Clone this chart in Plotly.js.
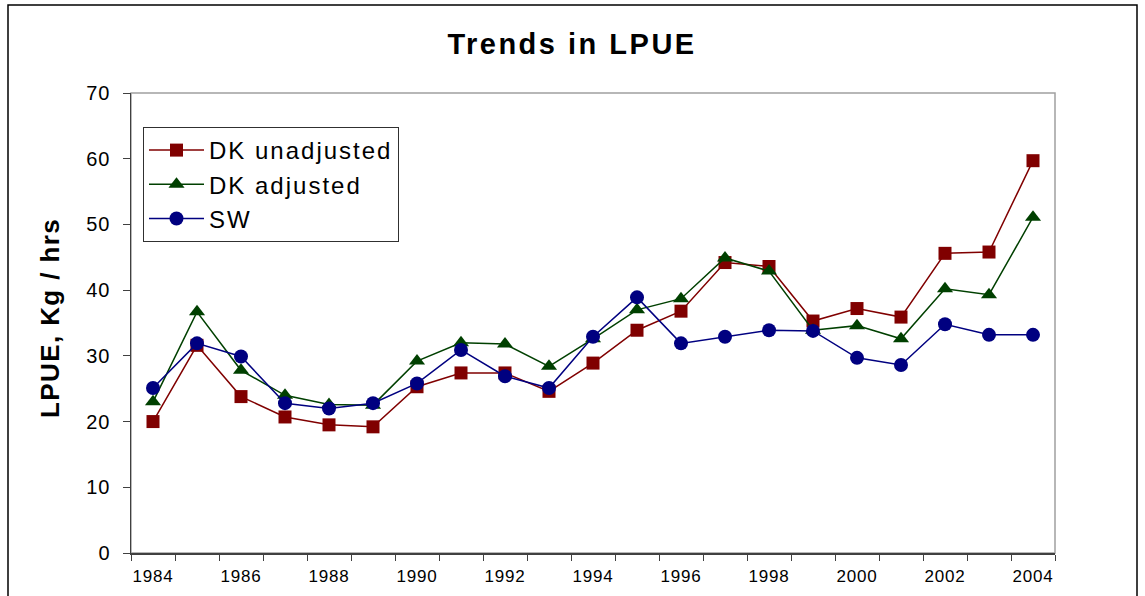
<!DOCTYPE html>
<html>
<head>
<meta charset="utf-8">
<script src="https://cdn.plot.ly/plotly-3.0.1.min.js"></script>
<style>
html,body{margin:0;padding:0;background:#fff;}
#chart{width:1145px;height:596px;}
.gtitle{letter-spacing:2.5px;}
.legendtext{letter-spacing:2px;}
.xtick text{letter-spacing:0.8px;}
.ytick text{letter-spacing:1px;}
.annotation-text{letter-spacing:1.4px;}
</style>
</head>
<body>
<div id="chart"></div>
<script>
const years = [1984,1985,1986,1987,1988,1989,1990,1991,1992,1993,1994,1995,1996,1997,1998,1999,2000,2001,2002,2003,2004];
const tickLabels = ["1984","","1986","","1988","","1990","","1992","","1994","","1996","","1998","","2000","","2002","","2004"];
const dkUnadjusted = [20.0,31.6,23.8,20.7,19.5,19.2,25.3,27.4,27.4,24.6,28.9,33.9,36.8,44.2,43.6,35.3,37.2,35.9,45.6,45.8,59.7];
const dkAdjusted   = [23.0,36.7,27.8,24.0,22.6,22.5,29.2,32.0,31.8,28.4,32.6,37.0,38.7,44.9,42.9,33.9,34.6,32.6,40.2,39.3,51.1];
const sw           = [25.1,31.9,29.9,22.8,22.0,22.8,25.8,30.9,26.9,25.1,32.9,38.9,31.9,32.9,33.9,33.8,29.7,28.6,34.8,33.2,33.2];

const FONT = "Arial, 'Liberation Sans', sans-serif";
const xcat = years.map(String);

const traces = [
  {name:"DK unadjusted", x:xcat, y:dkUnadjusted, type:"scatter", mode:"lines+markers",
   line:{color:"#800000", width:1.5}, marker:{symbol:"square", size:13, color:"#800000"}, legendgroup:"a"},
  {name:"DK adjusted", x:xcat, y:dkAdjusted, type:"scatter", mode:"lines+markers",
   line:{color:"#004000", width:1.5}, marker:{symbol:"triangle-up", size:14, color:"#004000"}, legendgroup:"b"},
  {name:"SW", x:xcat, y:sw, type:"scatter", mode:"lines+markers",
   line:{color:"#000080", width:1.5}, marker:{symbol:"circle", size:14, color:"#000080"}, legendgroup:"c"}
];

const L=131, R=1055, T=93, B=553, W=1145, H=596;
const pw=R-L, ph=B-T;
const px=v=>(v-L)/pw, py=v=>(B-v)/ph;

const layout = {
  width:W, height:H,
  margin:{l:L, r:W-R, t:T, b:H-B, pad:0},
  paper_bgcolor:"#ffffff", plot_bgcolor:"#ffffff",
  font:{family:FONT, color:"#000"},
  title:{text:"<b>Trends in LPUE</b>", font:{size:29, family:FONT, color:"#000"},
         x:0.4996, xref:"container", xanchor:"center", y:1-44/H, yref:"container", yanchor:"middle"},
  showlegend:true,
  legend:{x:px(143), y:py(127), xanchor:"left", yanchor:"top", bgcolor:"#ffffff",
          bordercolor:"#303030", borderwidth:1, font:{size:24, family:FONT, color:"#000"},
          tracegroupgap:6, traceorder:"normal", itemwidth:55},
  xaxis:{type:"category", range:[-0.5,20.5], tickmode:"array", tickvals:xcat, ticktext:tickLabels,
         tickson:"boundaries", ticks:"outside", ticklen:6, tickcolor:"#404040", tickwidth:1, tickangle:0,
         showline:true, linecolor:"#404040", linewidth:1.5, showgrid:false, zeroline:false,
         tickfont:{size:17, family:FONT, color:"#000"}, ticklabelstandoff:7, fixedrange:true},
  yaxis:{range:[0,70], dtick:10, tick0:0, ticks:"outside", ticklen:7, tickcolor:"#404040", tickwidth:1,
         showline:true, linecolor:"#404040", linewidth:1.5, showgrid:false, zeroline:false,
         tickfont:{size:20, family:FONT, color:"#000"}, ticklabelstandoff:8, fixedrange:true},
  shapes:[
    {type:"rect", xref:"paper", yref:"paper", x0:0, x1:1, y0:0, y1:1, line:{color:"#a0a0a0", width:1.5}, layer:"below"},
    {type:"rect", xref:"paper", yref:"paper", x0:px(8), x1:px(1137), y0:py(5), y1:py(640), line:{color:"#000", width:1.5}, fillcolor:"rgba(0,0,0,0)"}
  ],
  annotations:[
    {text:"<b>LPUE, Kg / hrs</b>", textangle:-90, xref:"paper", yref:"paper", x:px(50), y:py(420),
     xanchor:"center", yanchor:"bottom", showarrow:false, font:{size:26, family:FONT, color:"#000"}}
  ]
};

Plotly.newPlot("chart", traces, layout, {displayModeBar:false, staticPlot:true});
</script>
</body>
</html>
